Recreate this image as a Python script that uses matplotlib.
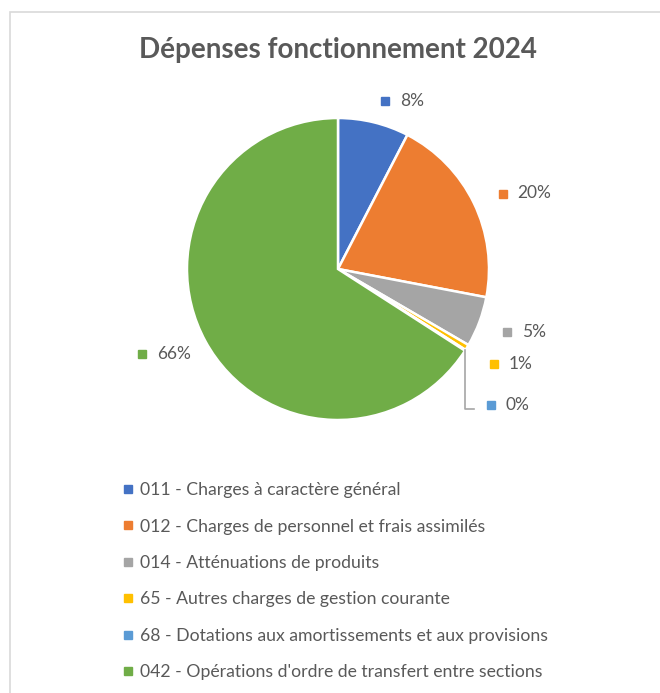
import numpy as np
import matplotlib.pyplot as plt
from matplotlib.lines import Line2D
from matplotlib.patches import Rectangle

plt.rcParams['font.family'] = ['Lato', 'DejaVu Sans']

categories = [
    "011 - Charges à caractère général",
    "012 - Charges de personnel et frais assimilés",
    "014 - Atténuations de produits",
    "65 - Autres charges de gestion courante",
    "68 - Dotations aux amortissements et aux provisions",
    "042 - Opérations d'ordre de transfert entre sections",
]
shares = [7.6, 20.4, 5.4, 0.6, 0.1, 65.9]
colors = ["#4472C4", "#ED7D31", "#A5A5A5", "#FFC000", "#5B9BD5", "#70AD47"]

# label placement (square marker position in pie units)
label_pos = [(0.31, 1.11), (1.09, 0.50), (1.12, -0.42), (1.03, -0.63), (1.01, -0.90), (-1.30, -0.56)]
text_color = "#595959"

fig = plt.figure(figsize=(6.6, 6.93), dpi=100)
W, H = 660, 693
cx, cy, r = 338, 269, 151

# outer frame of the chart area (runs off the right and bottom edges)
fig.patches.append(Rectangle((9.5 / W, -0.1), 1.2, 1.1 - 12.5 / H, transform=fig.transFigure,
                             fill=False, edgecolor="#D9D9D9", linewidth=1.2))

ax = fig.add_axes([(cx - r) / W, (H - cy - r) / H, 2 * r / W, 2 * r / H])
ax.pie(shares, colors=colors, startangle=90, counterclock=False, radius=1,
       wedgeprops=dict(edgecolor="white", linewidth=1.8))
ax.set_xlim(-1, 1)
ax.set_ylim(-1, 1)
ax.set_aspect("equal")
ax.axis("off")

total = sum(shares)
for val, col, (lx, ly) in zip(shares, colors, label_pos):
    ax.plot([lx], [ly], marker="s", markersize=5.5, color=col, linestyle="", clip_on=False)
    ax.text(lx + 0.10, ly, f"{val / total * 100:.0f}%", fontsize=12.5, color=text_color,
            va="center", ha="left", clip_on=False)

# leader line for the 0% slice
start = sum(shares[:4]) + shares[4] / 2
theta = np.deg2rad(90 - 360 * start / total)
ex, ey = np.cos(theta), np.sin(theta)
ax.plot([ex, ex, ex + 0.055], [ey, -0.93, -0.93], color="#A6A6A6", linewidth=1.2, clip_on=False)

fig.text(cx / W, 1 - 50 / H, "Dépenses fonctionnement 2024", fontsize=20, fontweight="bold",
         color=text_color, ha="center", va="center")

handles = [Line2D([], [], marker="s", linestyle="", color=c, markersize=5.5) for c in colors]
fig.legend(handles, categories, loc="upper left", bbox_to_anchor=(116 / W, 1 - 475 / H),
           frameon=False, fontsize=12.7, labelcolor=text_color, handlelength=0.6,
           handletextpad=0.35, labelspacing=1.16, borderaxespad=0)

fig.savefig("out.png", dpi=100, facecolor="white")
